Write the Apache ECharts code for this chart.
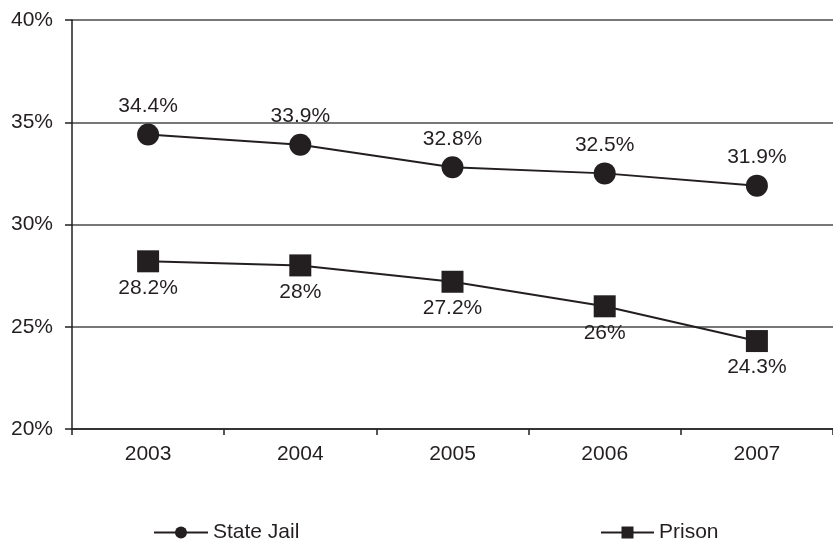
<!DOCTYPE html>
<html><head><meta charset="utf-8">
<script src="https://cdn.jsdelivr.net/npm/echarts@6/dist/echarts.min.js"></script>
<style>html,body{margin:0;padding:0;background:#fff}#c{width:833px;height:542px}</style>
</head><body><div id="c"></div>
<script>
const categories = ['2003','2004','2005','2006','2007'];
const stateJail = [34.4, 33.9, 32.8, 32.5, 31.9];
const prison = [28.2, 28, 27.2, 26, 24.3];
const yTicks = [20, 25, 30, 35, 40];

const font = 'Liberation Sans, Arial, sans-serif';
const ink = '#231f20';
const chart = echarts.init(document.getElementById('c'));
chart.setOption({
  animation: false,
  textStyle: { fontFamily: font },
  grid: { left: 72, right: -10, top: 20, bottom: 113, containLabel: false },
  xAxis: {
    type: 'category', data: categories, boundaryGap: true,
    axisLine: { lineStyle: { color: ink, width: 1.5 } },
    axisTick: { show: true, length: 6, lineStyle: { color: ink, width: 1.5 } },
    axisLabel: { color: ink, fontSize: 21, margin: 15, fontFamily: font },
    splitLine: { show: false }
  },
  yAxis: {
    type: 'value', min: yTicks[0], max: yTicks[yTicks.length-1], interval: 5,
    axisLine: { show: true, lineStyle: { color: ink, width: 1.5 } },
    axisTick: { show: true, length: 7, lineStyle: { color: ink, width: 1.5 } },
    axisLabel: { color: ink, fontSize: 21, margin: 19, formatter: v => v + '%', fontFamily: font },
    splitLine: { show: true, lineStyle: { color: '#4a4a4a', width: 1.5 } }
  },
  legend: [
    { data: ['State Jail'], left: 148, top: 517, itemWidth: 54, itemHeight: 15, itemGap: 6,
      textStyle: { color: ink, fontSize: 21, fontFamily: font } },
    { data: ['Prison'], left: 595, top: 517, itemWidth: 53, itemHeight: 15, itemGap: 6,
      textStyle: { color: ink, fontSize: 21, fontFamily: font } }
  ],
  series: [
    { name: 'State Jail', type: 'line', data: stateJail, symbol: 'circle', symbolSize: 22,
      lineStyle: { color: ink, width: 2 }, itemStyle: { color: ink },
      label: { show: true, position: 'top', distance: 7, formatter: p => p.value + '%', color: ink, fontSize: 21, fontFamily: font } },
    { name: 'Prison', type: 'line', data: prison, symbol: 'rect', symbolSize: 22,
      lineStyle: { color: ink, width: 2 }, itemStyle: { color: ink },
      label: { show: true, position: 'bottom', distance: 5, formatter: p => p.value + '%', color: ink, fontSize: 21, fontFamily: font } }
  ]
});
</script></body></html>
